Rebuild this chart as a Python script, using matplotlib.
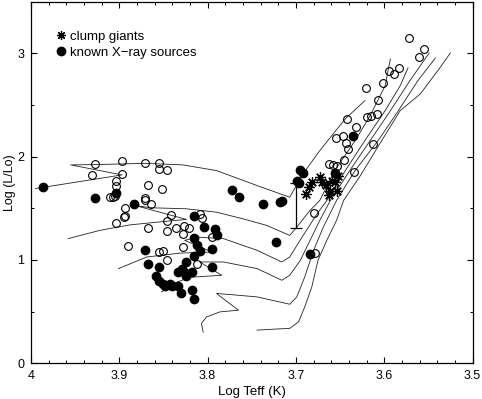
import matplotlib
matplotlib.use("Agg")
import matplotlib.pyplot as plt
from matplotlib.lines import Line2D

plt.rcParams['font.family'] = ['Liberation Sans', 'DejaVu Sans']
plt.rcParams['font.size'] = 9

# ---- data (log Teff, log L/Lsun) ----
open_teff = [3.927, 3.897, 3.871, 3.855, 3.855, 3.846, 3.931, 3.897, 3.904, 3.904,
             3.867, 3.852, 3.911, 3.907, 3.905, 3.871, 3.871, 3.864, 3.893, 3.895,
             3.893, 3.904, 3.842, 3.846, 3.867, 3.846, 3.836, 3.827, 3.821, 3.828,
             3.809, 3.806, 3.795, 3.890, 3.828, 3.855, 3.851, 3.846, 3.812, 3.680,
             3.678, 3.572, 3.555, 3.561, 3.583, 3.595, 3.589, 3.601, 3.621, 3.607,
             3.608, 3.619, 3.615, 3.642, 3.632, 3.647, 3.655, 3.641, 3.613, 3.645,
             3.663, 3.658, 3.653, 3.634, 3.643]
open_lum = [1.930, 1.959, 1.935, 1.939, 1.881, 1.875, 1.819, 1.833, 1.768, 1.720,
            1.727, 1.688, 1.611, 1.611, 1.614, 1.601, 1.578, 1.540, 1.501, 1.414,
            1.428, 1.360, 1.433, 1.379, 1.312, 1.283, 1.312, 1.327, 1.305, 1.247,
            1.443, 1.408, 1.218, 1.138, 1.125, 1.080, 1.083, 1.003, 0.964, 1.453,
            1.067, 3.149, 3.045, 2.968, 2.859, 2.833, 2.801, 2.717, 2.663, 2.550,
            2.408, 2.383, 2.389, 2.360, 2.287, 2.203, 2.177, 2.074, 2.123, 1.971,
            1.930, 1.918, 1.913, 1.855, 2.134]

xray_teff = [3.986, 3.927, 3.904, 3.883, 3.772, 3.764, 3.737, 3.718, 3.716, 3.722,
             3.815, 3.804, 3.792, 3.789, 3.815, 3.812, 3.809, 3.795, 3.815, 3.871,
             3.867, 3.855, 3.824, 3.795, 3.833, 3.829, 3.827, 3.824, 3.818, 3.858,
             3.855, 3.851, 3.848, 3.843, 3.840, 3.834, 3.830, 3.818, 3.815, 3.684,
             3.635, 3.695, 3.699, 3.696, 3.656, 3.692]
xray_lum = [1.704, 1.597, 1.646, 1.537, 1.679, 1.607, 1.537, 1.556, 1.572, 1.177,
            1.421, 1.315, 1.298, 1.244, 1.208, 1.141, 1.090, 1.102, 1.042, 1.099,
            0.960, 0.931, 0.980, 0.935, 0.883, 0.912, 0.883, 0.848, 0.883, 0.848,
            0.796, 0.771, 0.748, 0.762, 0.748, 0.748, 0.680, 0.709, 0.623, 1.054,
            2.198, 1.870, 1.768, 1.749, 1.841, 1.842]

clump_teff = [3.688, 3.685, 3.682, 3.673, 3.671, 3.661, 3.663, 3.659, 3.656, 3.654,
              3.652, 3.666]
clump_lum = [1.640, 1.704, 1.752, 1.800, 1.752, 1.672, 1.624, 1.768, 1.752, 1.672,
             1.817, 1.730]

errbar_teff = [3.700]
errbar_lum = [1.74]
errbar_low = [0.43]

track1_teff = [3.995, 3.897, 3.955, 3.926, 3.871, 3.828, 3.790, 3.744, 3.707, 3.692,
               3.673, 3.644, 3.622]
track1_lum = [1.691, 1.823, 1.920, 1.923, 1.935, 1.920, 1.865, 1.720, 1.607, 1.833,
              2.058, 2.367, 2.541]
track2_teff = [3.958, 3.922, 3.888, 3.846, 3.824, 3.882, 3.865, 3.824, 3.790, 3.760,
               3.733, 3.707, 3.699, 3.684, 3.673, 3.656, 3.633, 3.616, 3.599, 3.593]
track2_lum = [1.206, 1.286, 1.339, 1.375, 1.392, 1.527, 1.505, 1.495, 1.462, 1.398,
              1.334, 1.237, 1.318, 1.479, 1.575, 1.865, 2.154, 2.396, 2.685, 2.946]
track3_teff = [3.901, 3.869, 3.831, 3.795, 3.826, 3.812, 3.782, 3.744, 3.716, 3.707,
               3.693, 3.676, 3.665, 3.644, 3.622, 3.599, 3.582, 3.573]
track3_lum = [0.916, 1.028, 1.066, 1.076, 1.189, 1.221, 1.206, 1.093, 0.980, 1.028,
              1.221, 1.447, 1.575, 1.865, 2.154, 2.444, 2.685, 2.859]
track4_teff = [3.852, 3.839, 3.820, 3.784, 3.809, 3.782, 3.744, 3.716, 3.707, 3.695,
               3.684, 3.673, 3.661, 3.639, 3.616, 3.593, 3.571, 3.549]
track4_lum = [0.690, 0.771, 0.832, 0.851, 0.980, 0.980, 0.916, 0.803, 0.851, 0.996,
              1.189, 1.382, 1.575, 1.865, 2.154, 2.444, 2.734, 3.004]
track5_teff = [3.805, 3.807, 3.801, 3.786, 3.765, 3.790, 3.775, 3.744, 3.707, 3.699,
               3.690, 3.680, 3.669, 3.654, 3.633, 3.607, 3.584, 3.562, 3.542]
track5_lum = [0.301, 0.385, 0.449, 0.497, 0.513, 0.675, 0.665, 0.642, 0.571, 0.642,
              0.835, 1.092, 1.317, 1.575, 1.865, 2.154, 2.444, 2.734, 2.956]
track6_teff = [3.744, 3.724, 3.707, 3.697, 3.690, 3.682, 3.675, 3.665, 3.654, 3.646,
               3.627, 3.605, 3.582, 3.559, 3.537, 3.525]
track6_lum = [0.320, 0.330, 0.337, 0.400, 0.545, 0.738, 0.996, 1.189, 1.382, 1.575,
              1.816, 2.125, 2.444, 2.608, 2.859, 3.004]

tracks = [(track1_teff, track1_lum), (track2_teff, track2_lum),
          (track3_teff, track3_lum), (track4_teff, track4_lum),
          (track5_teff, track5_lum), (track6_teff, track6_lum)]

legend_labels = ["clump giants", "known X\u2212ray sources"]
xlabel = "Log Teff (K)"
ylabel = "Log (L/Lo)"

# ---- figure ----
fig = plt.figure(figsize=(4.82, 3.99), dpi=100)
ax = fig.add_axes([31/482, 1 - 363.2/399, 441.5/482, 361.5/399])

for tx, ty in tracks:
    ax.plot(tx, ty, color='#222222', lw=0.6, zorder=1)

ax.errorbar(errbar_teff, errbar_lum, yerr=[errbar_low, [0]], fmt='none',
            ecolor='black', elinewidth=0.9, capsize=4, capthick=0.9, zorder=2)

ax.plot(open_teff, open_lum, linestyle='none', marker='o', ms=5.6,
        mfc='none', mec='black', mew=0.8, zorder=3)
ax.plot(xray_teff, xray_lum, linestyle='none', marker='o', ms=6.0,
        mfc='black', mec='black', zorder=4)
ax.plot(clump_teff, clump_lum, linestyle='none', marker=(8, 2, 0), ms=7.5,
        mec='black', mew=0.9, color='black', zorder=5)

h1 = Line2D([], [], linestyle='none', marker=(8, 2, 0), ms=6.5, mew=0.9, color='black')
h2 = Line2D([], [], linestyle='none', marker='o', ms=6.0, color='black')
ax.legend([h1, h2], legend_labels, loc='upper left', bbox_to_anchor=(0.055, 0.92),
          frameon=False, handlelength=0.8, handletextpad=0.3, labelspacing=0.3,
          borderpad=0, borderaxespad=0, fontsize=9.5)

ax.set_xlim(4.0, 3.5)
ax.set_ylim(0, 3.5)
ax.set_xticks([4.0, 3.9, 3.8, 3.7, 3.6, 3.5])
ax.set_xticklabels(["4", "3.9", "3.8", "3.7", "3.6", "3.5"])
ax.set_yticks([0, 1, 2, 3])
ax.set_xticks([4.0 - 0.02 * i for i in range(26)], minor=True)
ax.set_yticks([0.5, 1.5, 2.5, 3.5], minor=True)
ax.tick_params(which='both', direction='in', top=True, right=True, labelsize=9)
ax.tick_params(which='major', length=4, width=0.8)
ax.tick_params(which='minor', length=2.5, width=0.7)
ax.tick_params(axis='x', pad=5)
ax.tick_params(axis='y', pad=5)
for s in ax.spines.values():
    s.set_linewidth(0.9)

ax.set_xlabel(xlabel, fontsize=9.5, labelpad=3)
ax.set_ylabel(ylabel, fontsize=9, labelpad=1)

fig.savefig("out.png", dpi=100)
